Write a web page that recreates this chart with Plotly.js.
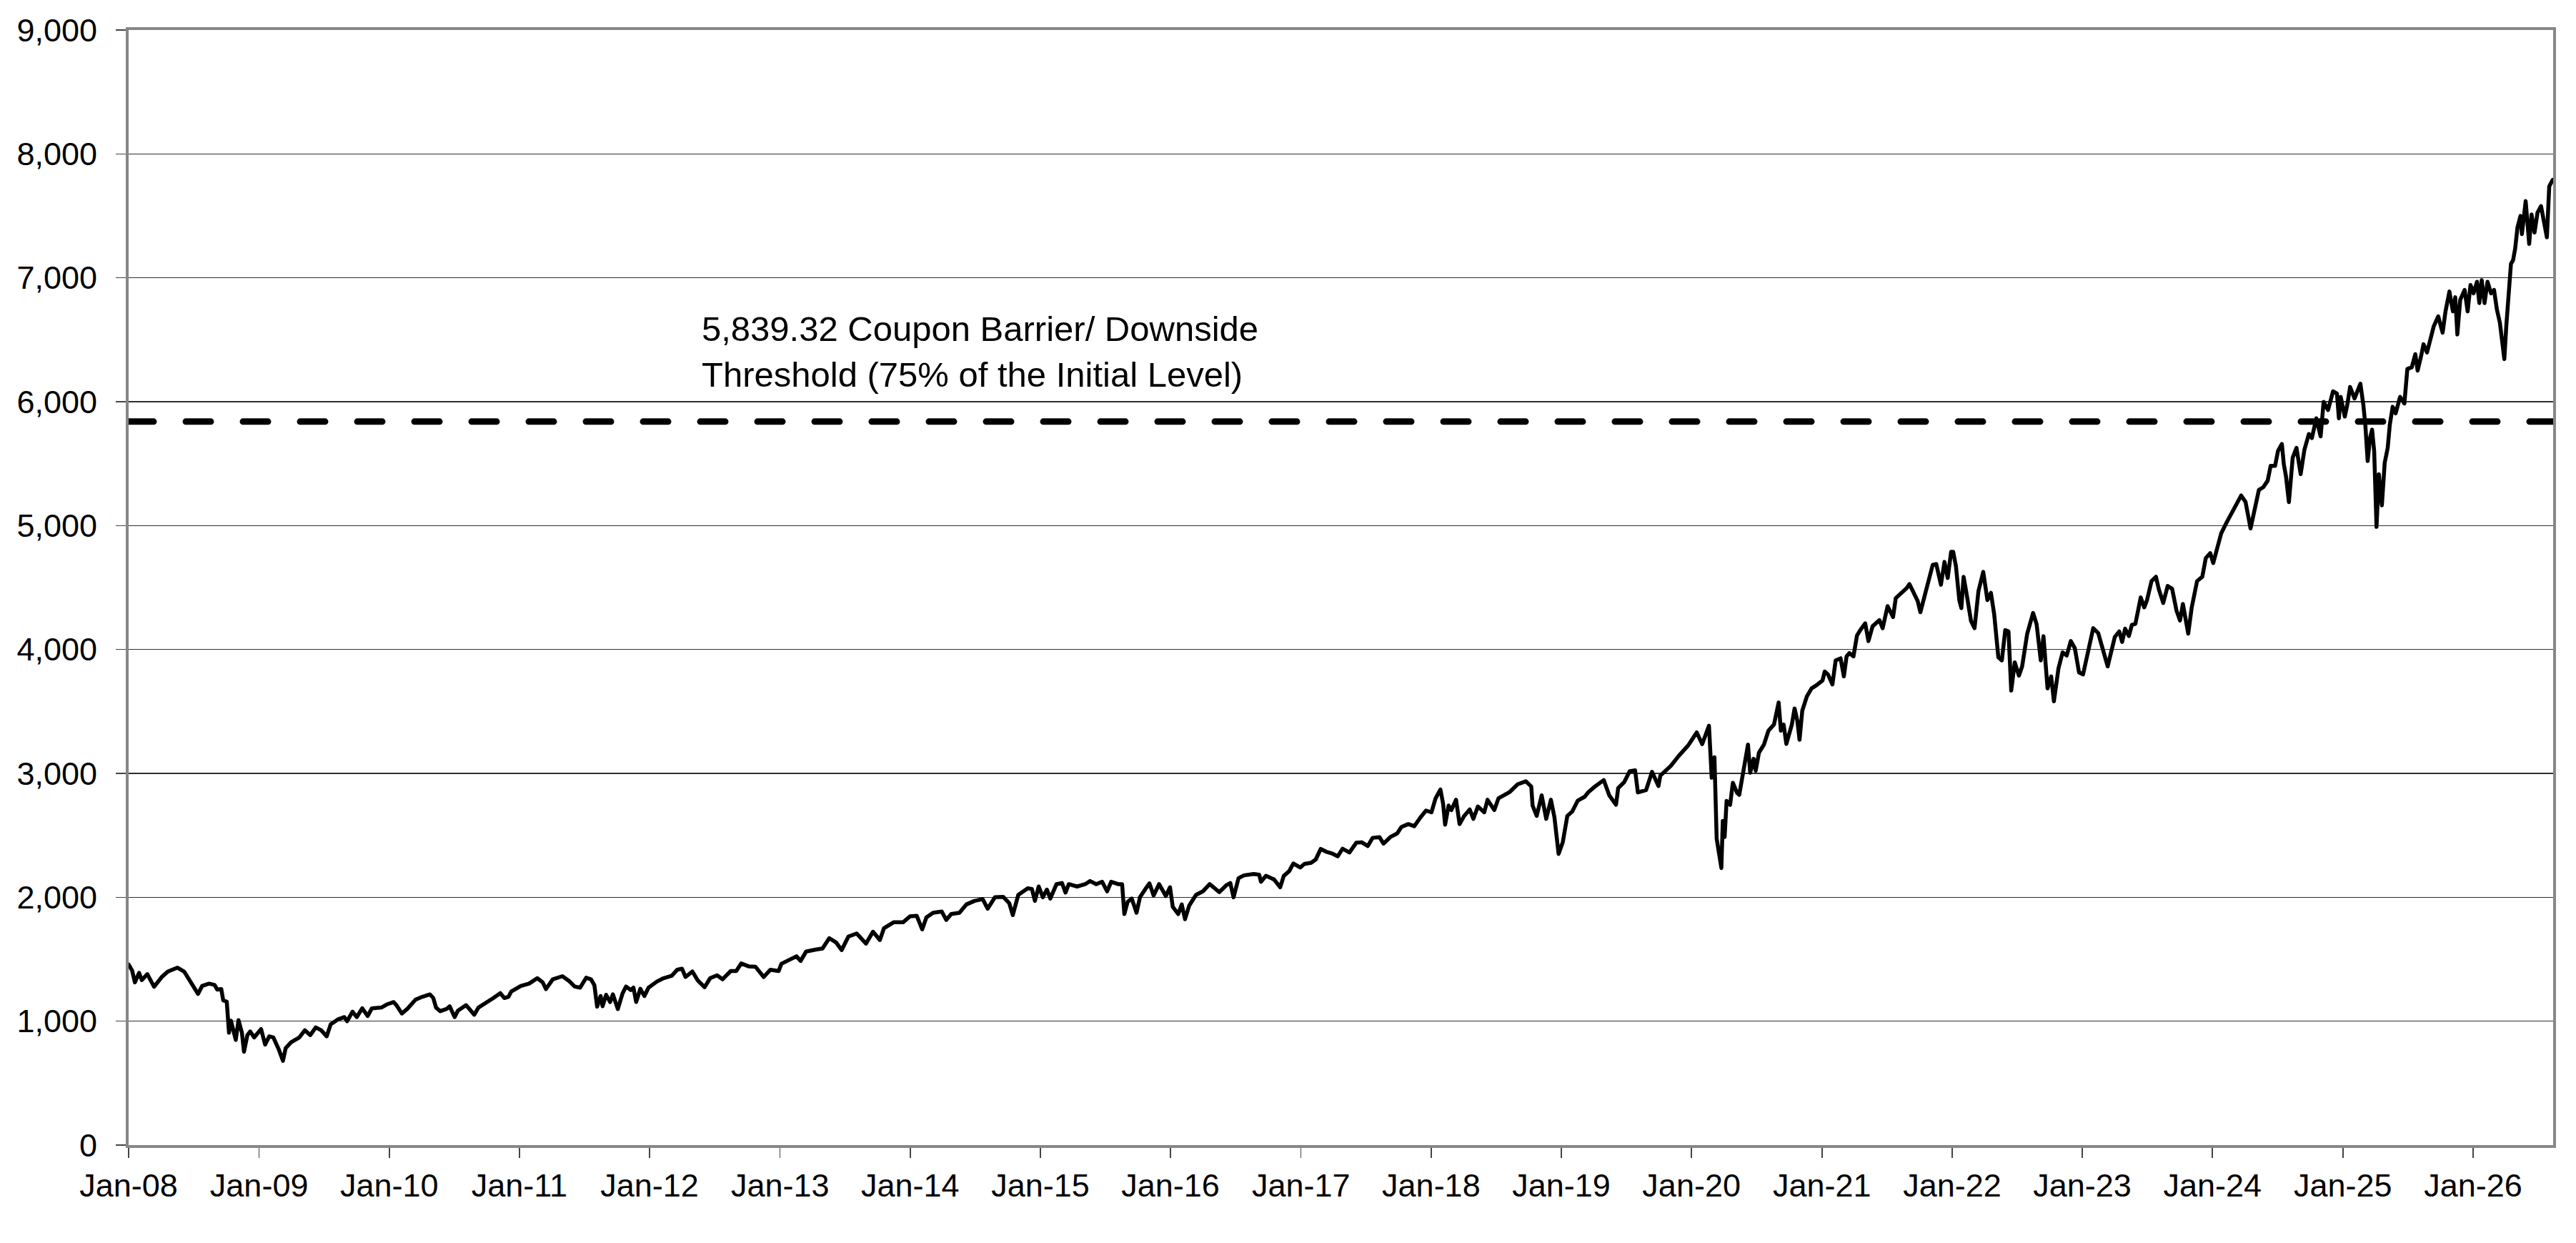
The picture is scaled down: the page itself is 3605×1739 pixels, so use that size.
<!DOCTYPE html>
<html>
<head>
<meta charset="utf-8">
<script src="https://cdn.plot.ly/plotly-3.0.1.min.js"></script>
<style>
  body { margin: 0; background: #fff; }
  #chart { width: 3605px; height: 1739px; }
  #chart path.js-line { stroke-linecap: round; stroke-linejoin: round; }
</style>
</head>
<body>
<div id="chart"></div>
<script>
const obsYear = [
  2008.000, 2008.027, 2008.048, 2008.080, 2008.101, 2008.143, 2008.195, 2008.258, 2008.300, 2008.374,
  2008.426, 2008.479, 2008.532, 2008.563, 2008.616, 2008.658, 2008.679, 2008.710, 2008.725, 2008.752,
  2008.769, 2008.784, 2008.805, 2008.821, 2008.842, 2008.868, 2008.884, 2008.910, 2008.931, 2008.962,
  2009.015, 2009.046, 2009.078, 2009.109, 2009.151, 2009.183, 2009.204, 2009.246, 2009.309, 2009.351,
  2009.393, 2009.435, 2009.477, 2009.519, 2009.550, 2009.603, 2009.655, 2009.676, 2009.718, 2009.750,
  2009.792, 2009.834, 2009.866, 2009.939, 2009.981, 2010.034, 2010.055, 2010.097, 2010.139, 2010.202,
  2010.254, 2010.313, 2010.338, 2010.359, 2010.391, 2010.443, 2010.464, 2010.502, 2010.527, 2010.590,
  2010.622, 2010.653, 2010.685, 2010.737, 2010.800, 2010.853, 2010.884, 2010.916, 2010.937, 2011.011,
  2011.074, 2011.137, 2011.179, 2011.204, 2011.256, 2011.330, 2011.382, 2011.424, 2011.466, 2011.513,
  2011.550, 2011.576, 2011.597, 2011.624, 2011.639, 2011.666, 2011.697, 2011.718, 2011.756, 2011.792,
  2011.819, 2011.855, 2011.876, 2011.897, 2011.929, 2011.960, 2011.992, 2012.055, 2012.107, 2012.170,
  2012.212, 2012.248, 2012.275, 2012.328, 2012.370, 2012.422, 2012.464, 2012.517, 2012.559, 2012.622,
  2012.664, 2012.702, 2012.758, 2012.811, 2012.874, 2012.926, 2012.989, 2013.010, 2013.063, 2013.126,
  2013.158, 2013.200, 2013.273, 2013.326, 2013.378, 2013.431, 2013.473, 2013.525, 2013.588, 2013.630,
  2013.660, 2013.714, 2013.767, 2013.798, 2013.872, 2013.945, 2013.998, 2014.050, 2014.092, 2014.124,
  2014.176, 2014.242, 2014.277, 2014.315, 2014.378, 2014.431, 2014.494, 2014.557, 2014.595, 2014.651,
  2014.714, 2014.761, 2014.788, 2014.830, 2014.903, 2014.935, 2014.958, 2014.987, 2015.019, 2015.050,
  2015.076, 2015.124, 2015.166, 2015.193, 2015.218, 2015.282, 2015.345, 2015.382, 2015.429, 2015.475,
  2015.513, 2015.544, 2015.597, 2015.628, 2015.645, 2015.670, 2015.702, 2015.739, 2015.765, 2015.807,
  2015.838, 2015.870, 2015.912, 2015.964, 2015.996, 2016.017, 2016.059, 2016.086, 2016.111, 2016.143,
  2016.195, 2016.248, 2016.300, 2016.374, 2016.426, 2016.458, 2016.483, 2016.521, 2016.563, 2016.637,
  2016.679, 2016.693, 2016.731, 2016.793, 2016.840, 2016.868, 2016.910, 2016.941, 2016.994, 2017.025,
  2017.078, 2017.113, 2017.151, 2017.193, 2017.235, 2017.282, 2017.319, 2017.372, 2017.424, 2017.466,
  2017.513, 2017.550, 2017.603, 2017.634, 2017.687, 2017.739, 2017.771, 2017.824, 2017.870, 2017.918,
  2017.960, 2018.002, 2018.034, 2018.071, 2018.092, 2018.107, 2018.134, 2018.155, 2018.191, 2018.218,
  2018.254, 2018.296, 2018.324, 2018.359, 2018.408, 2018.433, 2018.485, 2018.517, 2018.569, 2018.605,
  2018.664, 2018.727, 2018.769, 2018.779, 2018.811, 2018.849, 2018.884, 2018.920, 2018.947, 2018.979,
  2019.011, 2019.046, 2019.084, 2019.126, 2019.179, 2019.210, 2019.263, 2019.326, 2019.368, 2019.420,
  2019.437, 2019.483, 2019.525, 2019.567, 2019.588, 2019.651, 2019.697, 2019.746, 2019.761, 2019.840,
  2019.903, 2019.977, 2020.040, 2020.082, 2020.134, 2020.155, 2020.176, 2020.193, 2020.208, 2020.229,
  2020.240, 2020.254, 2020.269, 2020.296, 2020.317, 2020.349, 2020.366, 2020.391, 2020.416, 2020.433,
  2020.450, 2020.476, 2020.492, 2020.517, 2020.555, 2020.590, 2020.632, 2020.668, 2020.685, 2020.706,
  2020.727, 2020.769, 2020.790, 2020.811, 2020.828, 2020.849, 2020.884, 2020.920, 2020.958, 2021.004,
  2021.021, 2021.046, 2021.080, 2021.105, 2021.143, 2021.168, 2021.189, 2021.210, 2021.242, 2021.269,
  2021.294, 2021.332, 2021.357, 2021.389, 2021.441, 2021.466, 2021.504, 2021.546, 2021.567, 2021.620,
  2021.651, 2021.672, 2021.704, 2021.735, 2021.756, 2021.794, 2021.819, 2021.851, 2021.878, 2021.899,
  2021.914, 2021.941, 2021.966, 2021.992, 2022.008, 2022.029, 2022.055, 2022.071, 2022.088, 2022.109,
  2022.145, 2022.172, 2022.202, 2022.239, 2022.271, 2022.298, 2022.323, 2022.355, 2022.382, 2022.408,
  2022.433, 2022.454, 2022.481, 2022.513, 2022.538, 2022.576, 2022.622, 2022.649, 2022.681, 2022.702,
  2022.733, 2022.761, 2022.782, 2022.817, 2022.849, 2022.880, 2022.912, 2022.943, 2022.975, 2023.006,
  2023.038, 2023.084, 2023.122, 2023.164, 2023.195, 2023.250, 2023.284, 2023.306, 2023.329, 2023.358,
  2023.381, 2023.408, 2023.426, 2023.449, 2023.476, 2023.498, 2023.532, 2023.566, 2023.588, 2023.622,
  2023.656, 2023.690, 2023.724, 2023.751, 2023.773, 2023.814, 2023.841, 2023.882, 2023.922, 2023.949,
  2023.983, 2024.006, 2024.040, 2024.067, 2024.107, 2024.141, 2024.175, 2024.220, 2024.254, 2024.292,
  2024.322, 2024.356, 2024.389, 2024.423, 2024.446, 2024.480, 2024.502, 2024.532, 2024.547, 2024.563,
  2024.586, 2024.615, 2024.644, 2024.676, 2024.705, 2024.739, 2024.762, 2024.796, 2024.829, 2024.852,
  2024.886, 2024.924, 2024.954, 2024.969, 2024.983, 2025.014, 2025.033, 2025.055, 2025.089, 2025.118,
  2025.134, 2025.157, 2025.172, 2025.190, 2025.208, 2025.224, 2025.240, 2025.258, 2025.276, 2025.299,
  2025.321, 2025.344, 2025.360, 2025.382, 2025.405, 2025.439, 2025.472, 2025.495, 2025.529, 2025.556,
  2025.574, 2025.601, 2025.619, 2025.646, 2025.676, 2025.698, 2025.732, 2025.766, 2025.788, 2025.818,
  2025.845, 2025.863, 2025.879, 2025.901, 2025.935, 2025.958, 2025.980, 2026.003, 2026.030, 2026.048,
  2026.066, 2026.088, 2026.111, 2026.138, 2026.161, 2026.183, 2026.206, 2026.224, 2026.240, 2026.255,
  2026.273, 2026.291, 2026.307, 2026.323, 2026.341, 2026.364, 2026.375, 2026.404, 2026.431, 2026.449,
  2026.472, 2026.495, 2026.522, 2026.544, 2026.567, 2026.585, 2026.612
];

const indexLevel = [
  1458, 1409, 1313, 1390, 1332, 1380, 1278, 1361, 1400, 1432,
  1400, 1303, 1220, 1284, 1303, 1293, 1255, 1259, 1168, 1158,
  907, 1004, 907, 849, 1008, 907, 753, 888, 917, 869,
  936, 811, 878, 869, 772, 680, 782, 830, 869, 927,
  888, 950, 927, 878, 975, 1013, 1033, 1000, 1077, 1033,
  1104, 1042, 1104, 1110, 1135, 1154, 1129, 1062, 1100, 1174,
  1197, 1216, 1187, 1110, 1081, 1100, 1120, 1033, 1085, 1129,
  1091, 1052, 1110, 1149, 1187, 1226, 1187, 1197, 1239, 1284,
  1303, 1347, 1313, 1259, 1338, 1363, 1324, 1280, 1271, 1351,
  1338, 1290, 1117, 1203, 1121, 1213, 1155, 1217, 1098, 1223,
  1280, 1251, 1271, 1155, 1261, 1203, 1271, 1319, 1347, 1367,
  1415, 1424, 1357, 1401, 1328, 1274, 1347, 1370, 1338, 1405,
  1405, 1466, 1443, 1440, 1357, 1415, 1405, 1463, 1491, 1524,
  1486, 1562, 1578, 1587, 1670, 1635, 1574, 1683, 1708, 1658,
  1626, 1722, 1655, 1750, 1798, 1798, 1846, 1850, 1741, 1837,
  1875, 1885, 1817, 1865, 1875, 1942, 1971, 1985, 1908, 2000,
  2004, 1952, 1856, 2019, 2073, 2067, 1971, 2087, 2000, 2062,
  1990, 2106, 2115, 2038, 2106, 2087, 2106, 2131, 2106, 2125,
  2048, 2125, 2106, 2106, 1865, 1962, 1990, 1875, 2000, 2067,
  2112, 2015, 2106, 2010, 2081, 1923, 1865, 1942, 1823, 1933,
  2019, 2048, 2106, 2042, 2096, 2115, 2000, 2154, 2177, 2188,
  2183, 2125, 2173, 2144, 2081, 2173, 2212, 2273, 2240, 2269,
  2279, 2305, 2390, 2368, 2355, 2331, 2392, 2362, 2440, 2444,
  2414, 2480, 2485, 2433, 2487, 2515, 2567, 2591, 2574, 2645,
  2700, 2686, 2799, 2870, 2752, 2586, 2740, 2704, 2787, 2591,
  2657, 2709, 2633, 2733, 2686, 2787, 2704, 2799, 2834, 2851,
  2912, 2936, 2894, 2740, 2657, 2823, 2633, 2787, 2645, 2350,
  2444, 2657, 2693, 2780, 2811, 2851, 2898, 2946, 2823, 2747,
  2882, 2929, 3017, 3024, 2846, 2865, 3012, 2898, 2983, 3059,
  3142, 3229, 3331, 3236, 3385, 2965, 3130, 2473, 2374, 2236,
  2616, 2486, 2778, 2746, 2924, 2843, 2827, 2979, 3102, 3232,
  3005, 3118, 3021, 3167, 3232, 3345, 3394, 3572, 3345, 3394,
  3238, 3394, 3524, 3426, 3271, 3507, 3621, 3686, 3712, 3750,
  3822, 3799, 3718, 3912, 3929, 3783, 3945, 3971, 3945, 4113,
  4156, 4211, 4068, 4188, 4237, 4172, 4350, 4262, 4415, 4463,
  4496, 4528, 4463, 4392, 4301, 4463, 4561, 4684, 4690, 4609,
  4522, 4707, 4577, 4788, 4788, 4674, 4399, 4334, 4587, 4463,
  4230, 4172, 4470, 4626, 4399, 4457, 4285, 3938, 3912, 4156,
  4146, 3669, 3896, 3789, 3864, 4123, 4295, 4204, 3912, 4107,
  3686, 3783, 3582, 3848, 3977, 3951, 4068, 4010, 3815, 3799,
  3961, 4172, 4133, 3971, 3864, 4101, 4146, 4061, 4168, 4109,
  4199, 4207, 4287, 4420, 4340, 4401, 4552, 4587, 4486, 4375,
  4513, 4491, 4313, 4234, 4367, 4128, 4340, 4552, 4587, 4738,
  4778, 4698, 4831, 4937, 5022, 5097, 5155, 5243, 5190, 4977,
  5136, 5288, 5309, 5362, 5482, 5482, 5601, 5659, 5495, 5402,
  5190, 5548, 5628, 5415, 5614, 5739, 5707, 5866, 5720, 5999,
  5933, 6084, 6066, 5866, 6039, 5880, 5973, 6119, 6026, 6119,
  6145, 5973, 5813, 5521, 5707, 5774, 5601, 4990, 5415, 5163,
  5508, 5628, 5813, 5959, 5906, 6039, 5986, 6265, 6278, 6384,
  6251, 6371, 6464, 6397, 6504, 6610, 6689, 6557, 6729, 6889,
  6729, 6843, 6543, 6822, 6902, 6729, 6942, 6875, 6968, 6796,
  6981, 6796, 6968, 6875, 6902, 6743, 6636, 6450, 6344, 6610,
  6822, 7114, 7141, 7234, 7406, 7499, 7353, 7619, 7273, 7512,
  7366, 7526, 7579, 7459, 7327, 7738, 7791
];

const barrierLevel = 5839.32;
const barrierText = ['5,839.32 Coupon Barrier/ Downside', 'Threshold (75% of the Initial Level)'];
const axisStart = 2008.0;
const axisEnd = 2026.615;

function yearToDate(y) {
    const yr = Math.floor(y);
    const start = Date.UTC(yr, 0, 1);
    const end = Date.UTC(yr + 1, 0, 1);
    return new Date(start + (y - yr) * (end - start)).toISOString().replace('T', ' ').slice(0, 19);
}

const xDates = obsYear.map(yearToDate);
const xStart = yearToDate(axisStart);
const xEnd = yearToDate(axisEnd);

const traces = [
    {
        type: 'scatter',
        mode: 'lines',
        x: [xStart, xEnd],
        y: [barrierLevel, barrierLevel],
        line: { color: '#000', width: 9, dash: '35px,45px' },
        hoverinfo: 'skip'
    },
    {
        type: 'scatter',
        mode: 'lines',
        x: xDates,
        y: indexLevel,
        line: { color: '#000', width: 5.5 },
        hoverinfo: 'skip'
    }
];

const axisBase = {
    ticks: 'outside',
    ticklen: 14,
    tickwidth: 1.5,
    tickcolor: '#444',
    showline: true,
    linecolor: '#878787',
    linewidth: 4,
    mirror: true,
    zeroline: false,
    tickfont: { size: 45, color: '#000' }
};

const layout = {
    width: 3605,
    height: 1739,
    margin: { l: 180, r: 32, t: 42, b: 137, pad: 0 },
    paper_bgcolor: '#fff',
    plot_bgcolor: '#fff',
    showlegend: false,
    font: { family: '"Liberation Sans", Arial, sans-serif', size: 45, color: '#000' },
    xaxis: {
        ...axisBase,
        type: 'date',
        range: [xStart, xEnd],
        tick0: '2008-01-01',
        dtick: 'M12',
        tickformat: '%b-%y',
        showgrid: false,
        ticklabelstandoff: 0
    },
    yaxis: {
        ...axisBase,
        range: [0, 9000],
        dtick: 1000,
        tickformat: ',d',
        showgrid: true,
        gridcolor: '#2e2e2e',
        gridwidth: 1.5,
        ticklabelstandoff: 17
    },
    annotations: [{
        xref: 'paper',
        yref: 'paper',
        x: 0.2358,
        y: 0.7115,
        xanchor: 'left',
        yanchor: 'middle',
        align: 'left',
        showarrow: false,
        text: barrierText.join('<br>'),
        font: { size: 49, color: '#000' }
    }]
};

Plotly.newPlot('chart', traces, layout, { staticPlot: true, displayModeBar: false });
</script>
</body>
</html>
